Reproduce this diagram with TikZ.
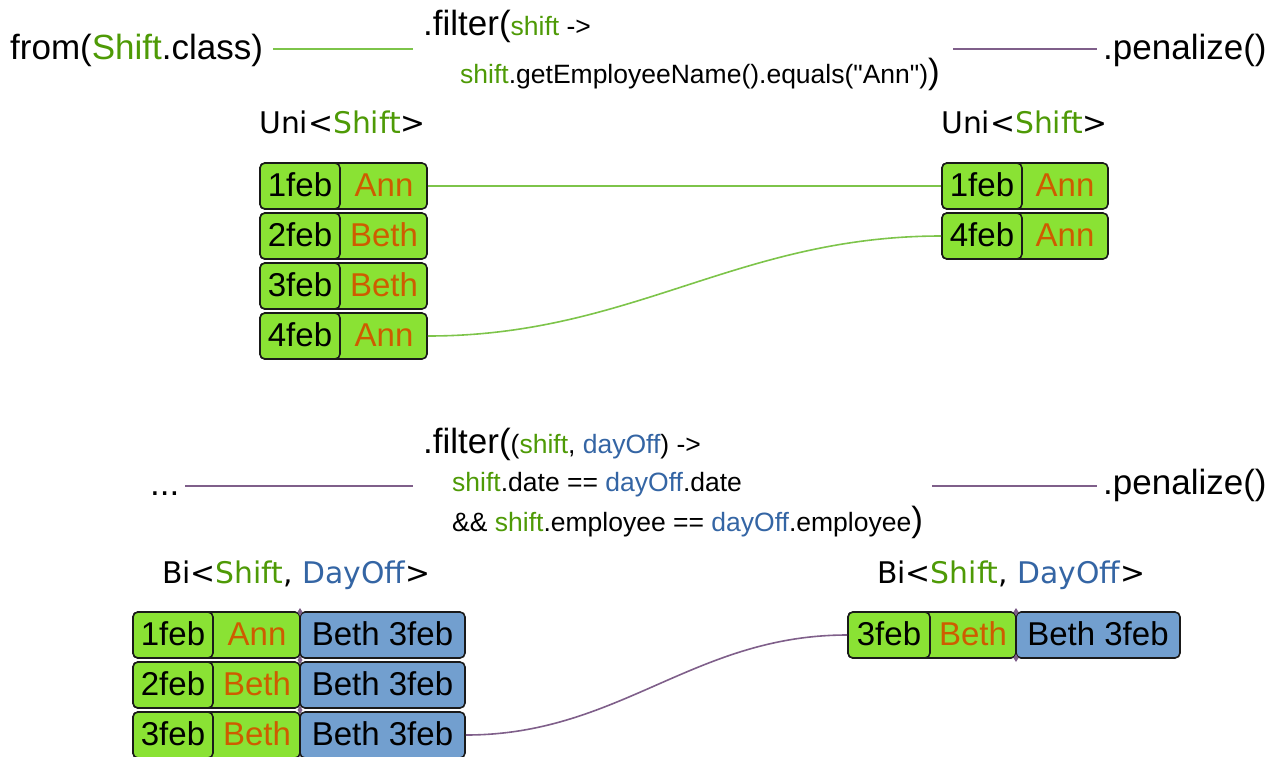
\documentclass[tikz,border=0pt]{standalone}
\usepackage{fontspec}
\setmainfont{Liberation Sans}[Ligatures=TeXOff]
\newfontfamily\labfont{DejaVu Sans}
\definecolor{cgreen}{HTML}{8AE234}
\definecolor{cblue}{HTML}{729FCF}
\definecolor{corange}{HTML}{CE5C00}
\definecolor{sgreen}{HTML}{4E9A06}
\definecolor{sblue}{HTML}{3465A4}
\definecolor{cplum}{HTML}{7F5F8A}
\definecolor{clgreen}{HTML}{7DC44A}
\definecolor{cborder}{HTML}{1A1A1A}
\newcommand\fbig{\fontsize{35}{42}\selectfont}
\newcommand\fsml{\fontsize{26.5}{32}\selectfont}
\newcommand\fcell{\fontsize{33}{40}\selectfont}
\newcommand\flab{\labfont\fontsize{29.8}{36}\selectfont}
\newcommand\sh{\textcolor{sgreen}{shift}}
\newcommand\dof{\textcolor{sblue}{dayOff}}
\newcommand\qq{\symbol{34}}
\tikzset{
  shiftbox/.style={draw=cborder, line width=1.6pt, rounded corners=5pt, fill=cgreen, minimum height=46pt, inner sep=0pt},
  offbox/.style={shiftbox, fill=cblue},
  celltxt/.style={anchor=base, inner sep=0pt, font=\fcell},
  codetxt/.style={anchor=base west, inner sep=0pt},
  labtxt/.style={anchor=base west, inner sep=0pt, font=\flab},
  gline/.style={draw=clgreen, line width=1.6pt},
  pline/.style={draw=cplum, line width=1.6pt},
  junc/.style={fill=cplum},
}
\begin{document}
\begin{tikzpicture}[x=1pt,y=-1pt]
\useasboundingbox (0,0) rectangle (1275,756);

% ---------- top part ----------
\node[codetxt] (from) at (10,59) {\fbig from(\textcolor{sgreen}{Shift}.class)};
\node[codetxt] (filt) at (423,35) {\fbig .filter(\fsml\sh{} ->};
\node[codetxt] (filt2) at (460,83) {\fsml\sh.getEmployeeName().equals(\qq Ann\qq)\fbig)};
\node[codetxt] (pen1) at (1103,59) {\fbig .penalize()};
\coordinate (t1a) at (273,49);
\coordinate (t1b) at (413,49);
\coordinate (t2a) at (953,49);
\coordinate (t2b) at (1097,49);
\draw[gline] (t1a) -- (t1b);
\draw[pline] (t2a) -- (t2b);

\node[labtxt] (uniL) at (259,133) {Uni<\textcolor{sgreen}{Shift}>};
\node[labtxt] (uniR) at (941,133) {Uni<\textcolor{sgreen}{Shift}>};

\foreach \i/\y/\d/\n in {1/186/1feb/Ann, 2/236/2feb/Beth, 3/286/3feb/Beth, 4/336/4feb/Ann}{
  \node[shiftbox, minimum width=167pt] (ls\i) at (343.5,\y) {};
  \node[shiftbox, minimum width=80pt] (ld\i) at (300,\y) {};
  \node[celltxt] (ldt\i) at (300,\y+10) {\d};
  \node[celltxt, text=corange] (lnm\i) at (384,\y+10) {\n};
}
\foreach \i/\y/\d/\n in {1/186/1feb/Ann, 2/236/4feb/Ann}{
  \node[shiftbox, minimum width=166pt] (rs\i) at (1025,\y) {};
  \node[shiftbox, minimum width=80pt] (rd\i) at (982,\y) {};
  \node[celltxt] (rdt\i) at (982,\y+10) {\d};
  \node[celltxt, text=corange] (rnm\i) at (1065,\y+10) {\n};
}
\draw[gline] (ls1.east) -- (rs1.west);
\draw[gline] (ls4.east) to[out=0,in=180] (rs2.west);

% ---------- bottom part ----------
\node[codetxt] (dots) at (150,495) {\fbig ...};
\node[codetxt] (filtb) at (423,453) {\fbig .filter(\fsml(\sh, \dof) ->};
\node[codetxt] (filtb2) at (452,491) {\fsml\sh.date == \dof.date};
\node[codetxt] (filtb3) at (452,531) {\fsml\&\& \sh.employee == \dof.employee\fbig)};
\node[codetxt] (pen2) at (1103,494) {\fbig .penalize()};
\coordinate (b1a) at (185,486);
\coordinate (b1b) at (413,486);
\coordinate (b2a) at (932,486);
\coordinate (b2b) at (1097,486);
\draw[pline] (b1a) -- (b1b);
\draw[pline] (b2a) -- (b2b);

\node[labtxt] (biL) at (162,583) {Bi<\textcolor{sgreen}{Shift}, \textcolor{sblue}{DayOff}>};
\node[labtxt] (biR) at (877,583) {Bi<\textcolor{sgreen}{Shift}, \textcolor{sblue}{DayOff}>};

\foreach \i/\y/\d/\n in {1/635/1feb/Ann, 2/685/2feb/Beth, 3/735/3feb/Beth}{
  \node[shiftbox, minimum width=167pt] (bs\i) at (216.5,\y) {};
  \node[shiftbox, minimum width=80pt] (bd\i) at (173,\y) {};
  \node[offbox, minimum width=165pt] (bo\i) at (382.5,\y) {};
  \node[celltxt] (bdt\i) at (173,\y+10) {\d};
  \node[celltxt, text=corange] (bnm\i) at (257,\y+10) {\n};
  \node[celltxt] (bot\i) at (382.5,\y+10) {Beth 3feb};
}
\node[shiftbox, minimum width=168pt] (brs1) at (932,635) {};
\node[shiftbox, minimum width=82pt] (brd1) at (889,635) {};
\node[offbox, minimum width=164pt] (bro1) at (1098,635) {};
\node[celltxt] (brdt1) at (889,645) {3feb};
\node[celltxt, text=corange] (brnm1) at (973,645) {Beth};
\node[celltxt] (brot1) at (1098,645) {Beth 3feb};

\foreach \y in {612,660,710}{
  \fill[junc] (300,\y-4) -- (302.5,\y) -- (300,\y+4) -- (297.5,\y) -- cycle;
}
\foreach \y in {612,658}{
  \fill[junc] (1016,\y-4) -- (1018.5,\y) -- (1016,\y+4) -- (1013.5,\y) -- cycle;
}
\draw[pline] (bo3.east) to[out=0,in=180] (brs1.west);
\end{tikzpicture}
\end{document}
